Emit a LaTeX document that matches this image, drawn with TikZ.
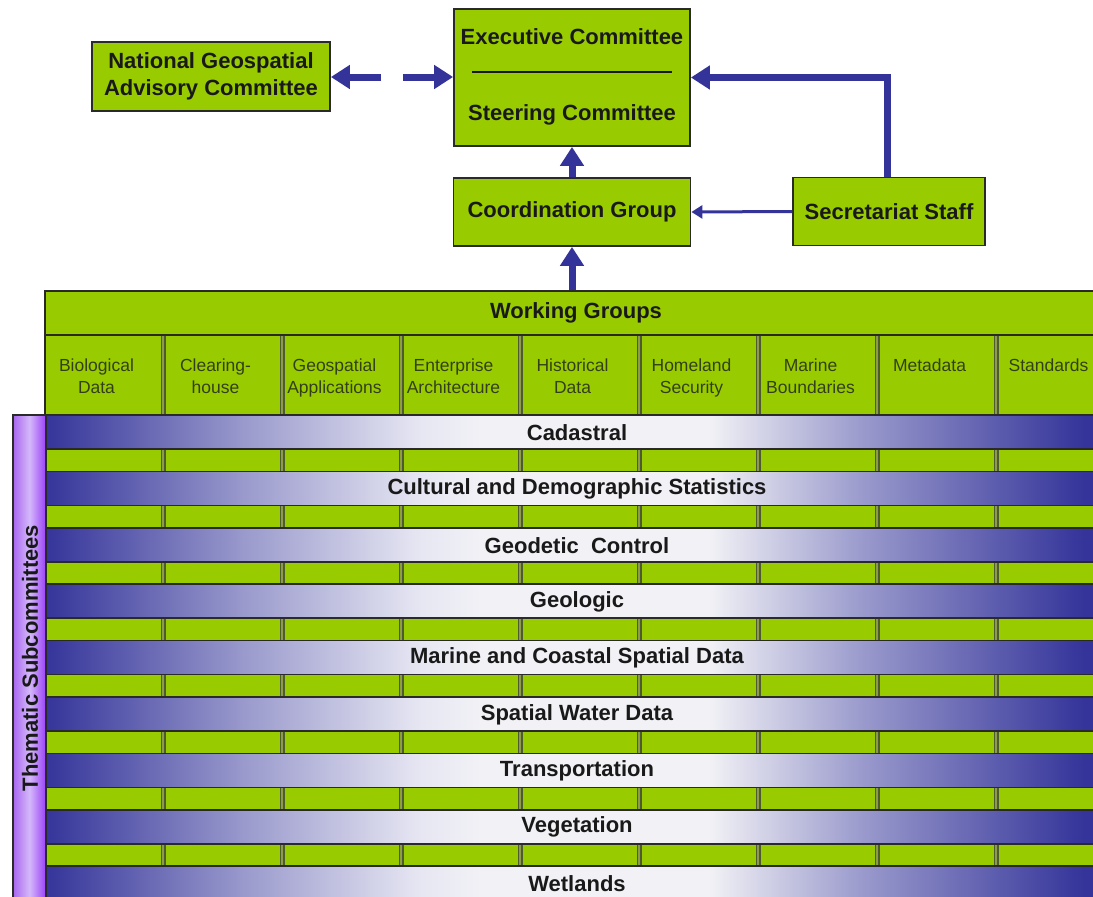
\documentclass[tikz,border=0pt]{standalone}
\usepackage{fontspec}
\setmainfont{Liberation Sans}
\usetikzlibrary{arrows.meta}
\definecolor{lgreen}{HTML}{99CC00}
\definecolor{navy}{HTML}{333399}
\definecolor{bandc}{HTML}{34349A}
\definecolor{bandmid}{HTML}{F2F2F6}
\definecolor{sepc}{HTML}{4E5A30}
\definecolor{sepm}{HTML}{8C9C48}
\definecolor{purpL}{HTML}{A866F0}
\definecolor{purpM}{HTML}{D4B8FA}
\definecolor{purpR}{HTML}{9A40F8}
\definecolor{coltxt}{HTML}{334016}
\definecolor{edge}{HTML}{2A2A2A}
\pgfdeclarehorizontalshading{bandsh}{100bp}{color(0bp)=(bandc); color(25bp)=(bandc); color(34bp)=(bandc!50!white); color(42bp)=(bandc!12!white); color(45bp)=(bandmid); color(55bp)=(bandmid); color(62bp)=(bandc!50!white); color(72bp)=(bandc); color(100bp)=(bandc)}
\tikzset{
  box/.style={draw=edge, line width=1.8pt, fill=lgreen, inner sep=0pt, align=center,
    font=\fontsize{22}{27}\selectfont\bfseries, text=black!90},
  boldtxt/.style={inner sep=0pt, font=\fontsize{22}{27}\selectfont\bfseries, text=black!90},
  coltext/.style={inner sep=0pt, anchor=north, align=center, font=\fontsize{17.5}{22}\selectfont, text=coltxt},
  bigarrow/.style={navy, line width=7pt, -{Triangle[length=19pt,width=23pt]}},
  thinarrow/.style={navy, line width=3pt, -{Triangle[length=11pt,width=13pt]}},
  bandline/.style={edge, line width=1.6pt},
}
\begin{document}
\begin{tikzpicture}[x=1pt,y=-1pt]
\useasboundingbox (0,0) rectangle (1093,897);
\clip (0,0) rectangle (1093,897);
\fill[white] (0,0) rectangle (1093,897);

% ---- top boxes ----
\node[box, minimum width=238pt, minimum height=69pt] (ngac) at (211,76.5) {National Geospatial\\Advisory Committee};
\node[box, minimum width=236pt, minimum height=137pt] (exec) at (572,77.5) {};
\node[boldtxt] (exectxt) at (572,37) {Executive Committee};
\node[boldtxt] (steertxt) at (572,115) {Steering Committee};
\draw[black!90, line width=2pt] (472,72) -- (672,72);
\node[box, minimum width=237pt, minimum height=68pt] (coord) at (572,212) {Coordination Group};
\node[box, minimum width=192pt, minimum height=68pt] (sec) at (889,211.5) {Secretariat Staff};

% ---- grid background ----
\fill[lgreen] (45,335) rectangle (1150,900);
\foreach \x in {163,282,401,520,639,758,877,996}{
  \draw[sepc, line width=5pt] (\x,335) -- (\x,900);
  \draw[sepm, line width=1.4pt] (\x,335) -- (\x,900);
}
\draw[bandline] (45,335) -- (45,415);

% ---- working groups header ----
\node[box, minimum width=1062pt, minimum height=44pt] (wg) at (576,313) {Working Groups};

% column labels
\foreach \lab [count=\i from 0] in {Biological\\Data, Clearing-\\house, Geospatial\\Applications, Enterprise\\Architecture, Historical\\Data, Homeland\\Security, Marine\\Boundaries, Metadata, Standards}{
  \pgfmathsetmacro{\cx}{45+119*\i+51.5}
  \node[coltext] (col\i) at (\cx,358.5) {\lab};
}

% ---- thematic bands ----
\foreach \name [count=\i from 0] in {Cadastral, Cultural and Demographic Statistics, Geodetic\ \ Control, Geologic, Marine and Coastal Spatial Data, Spatial Water Data, Transportation, Vegetation, Wetlands}{
  \pgfmathsetmacro{\t}{415+56.4*\i}
  \pgfmathsetmacro{\b}{\t+34}
  \pgfmathsetmacro{\m}{\t+17.5}
  \shade[shading=bandsh] (45,\t) rectangle (1150,\b);
  \draw[bandline] (45,\t) -- (1150,\t) (45,\b) -- (1150,\b);
  \pgfmathsetmacro{\gb}{\b+22.4}
  \draw[bandline] (45,\b) -- (45,\gb);
  \node[boldtxt] (band\i) at (577,\m) {\name};
}

% ---- thematic subcommittees bar ----
\shade[left color=purpL, right color=purpR, middle color=purpM] (13,415) rectangle (46,900);
\draw[edge, line width=1.4pt] (13,900) -- (13,415) -- (46,415) -- (46,900);
\node[boldtxt, rotate=90] (thematic) at (30,658) {Thematic Subcommittees};

% ---- connectors ----
\draw[bigarrow] (coord.north) -- (exec.south);
\draw[bigarrow] (wg.north -| coord.south) -- (coord.south);
\draw[thinarrow] (sec.west) -- (coord.east);
\draw[bigarrow] ([xshift=-2pt]sec.north) |- (exec.east);
\coordinate (dl) at (381,77);
\coordinate (dr) at (403,77);
\draw[bigarrow] (dl) -- (dl -| ngac.east);
\draw[bigarrow] (dr) -- (dr -| exec.west);
\end{tikzpicture}
\end{document}
